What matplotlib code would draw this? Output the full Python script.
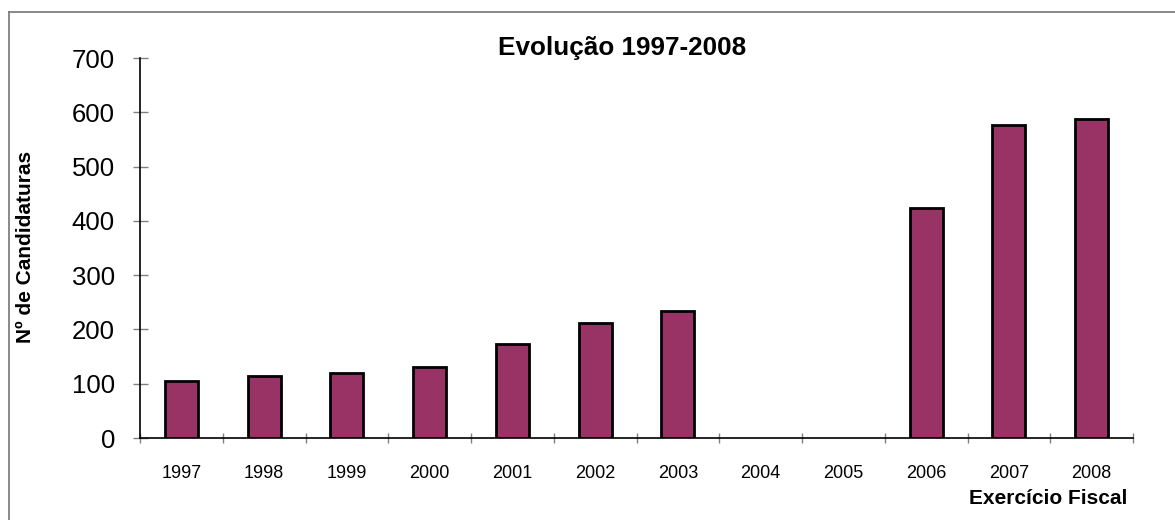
import numpy as np
import matplotlib
matplotlib.use("Agg")
import matplotlib.pyplot as plt
from matplotlib.lines import Line2D

plt.rcParams['font.family'] = ['Liberation Sans', 'DejaVu Sans']

years = ['1997', '1998', '1999', '2000', '2001', '2002', '2003',
         '2004', '2005', '2006', '2007', '2008']
candidaturas = [105, 115, 120, 130, 173, 212, 234,
                np.nan, np.nan, 424, 577, 588]
y_ticks = [0, 100, 200, 300, 400, 500, 600, 700]

title = 'Evolução 1997-2008'
ylabel = 'Nº de Candidaturas'
xlabel = 'Exercício Fiscal'

W, H = 1175, 520
fig = plt.figure(figsize=(W / 100, H / 100), dpi=100)
ax = fig.add_axes([140 / W, 1 - 438 / H, (1133 - 140) / W, (438 - 58) / H])

n = len(years)
centers = np.arange(n) + 0.5
ax.bar(centers, candidaturas, width=0.4, color='#993366',
       edgecolor='black', linewidth=2.0, zorder=3)

ax.set_xlim(0, n)
ax.set_ylim(0, 700)
ax.set_yticks(y_ticks)
ax.set_yticklabels([str(v) for v in y_ticks], fontsize=18.5)

ax.set_xticks(np.arange(n + 1))
ax.set_xticklabels([])
ax.set_xticks(centers, minor=True)
ax.set_xticklabels(years, minor=True, fontsize=13)

ax.tick_params(axis='x', which='major', direction='inout', length=7.2,
               width=1, color='#808080')
ax.tick_params(axis='x', which='minor', length=0, pad=19.4)
ax.tick_params(axis='y', which='major', direction='inout', length=10.8,
               width=1, color='#808080', pad=12.6)

for s in ['top', 'right']:
    ax.spines[s].set_visible(False)
for s in ['left', 'bottom']:
    ax.spines[s].set_color('black')
    ax.spines[s].set_linewidth(1.2)

fig.text(622 / W, 1 - 48 / H, title, fontsize=18.8, fontweight='bold',
         ha='center', va='center')
fig.text(26 / W, 1 - 247 / H, ylabel, fontsize=15, fontweight='bold',
         rotation=90, ha='center', va='center')
fig.text(1127 / W, 1 - 499 / H, xlabel, fontsize=15, fontweight='bold',
         ha='right', va='center')

# outer chart border (left and top visible)
x0 = 8.5 / W
y0 = 1 - 11.5 / H
fig.add_artist(Line2D([x0, x0], [-0.1, y0], transform=fig.transFigure,
                      color='#808080', linewidth=1.3))
fig.add_artist(Line2D([x0, 1.1], [y0, y0], transform=fig.transFigure,
                      color='#808080', linewidth=1.3))

fig.savefig('out.png', dpi=100, facecolor='white')
